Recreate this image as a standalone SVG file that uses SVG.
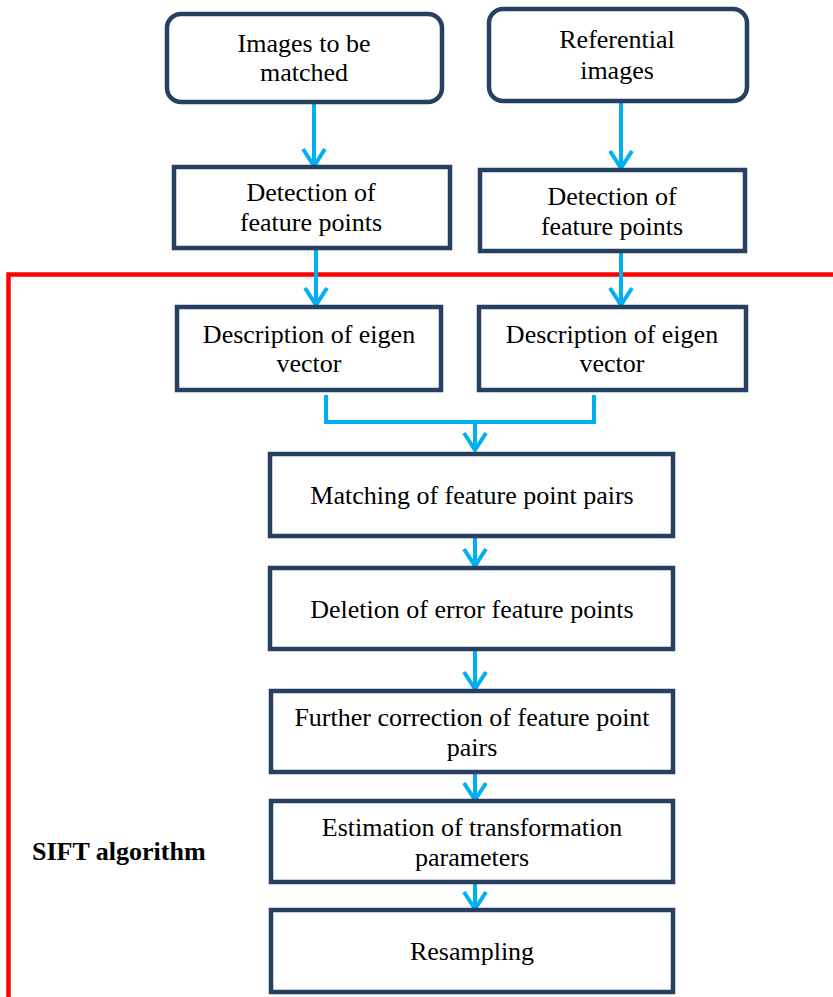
<svg xmlns="http://www.w3.org/2000/svg" width="833" height="997" viewBox="0 0 833 997">
<defs>
<style>
.box{fill:#fff;stroke:#273f60;stroke-width:4.5}
.lbl{font-family:'Liberation Serif',serif;font-size:26px;fill:#000;text-anchor:middle}
.conn{fill:none;stroke:#00b0f0;stroke-width:4}
</style>
<marker id="ah" markerUnits="userSpaceOnUse" markerWidth="30" markerHeight="30" viewBox="-20 -15 24 30" refX="0" refY="0" orient="auto" overflow="visible">
<path d="M-17,-11 L0,0 L-17,11" fill="none" stroke="#00b0f0" stroke-width="4" stroke-linejoin="miter"/>
</marker>
</defs>
<rect width="833" height="997" fill="#fff"/>
<g id="sift-region">
<path d="M833,274.5 H8.5 V997" fill="none" stroke="#ff0000" stroke-width="4.5"/>
<text x="32" y="860" font-family="Liberation Serif, serif" font-size="26" font-weight="bold">SIFT algorithm</text>
</g>
<g id="connectors">
<line class="conn" x1="314" y1="103" x2="314" y2="166" marker-end="url(#ah)"/>
<line class="conn" x1="621" y1="102" x2="621" y2="168" marker-end="url(#ah)"/>
<line class="conn" x1="316" y1="250" x2="316" y2="305" marker-end="url(#ah)"/>
<line class="conn" x1="621" y1="253" x2="621" y2="305" marker-end="url(#ah)"/>
<path class="conn" d="M326,395 V422 H594 V395"/>
<line class="conn" x1="475" y1="422" x2="475" y2="450" marker-end="url(#ah)"/>
<line class="conn" x1="475" y1="537" x2="475" y2="566" marker-end="url(#ah)"/>
<line class="conn" x1="475" y1="650" x2="475" y2="689" marker-end="url(#ah)"/>
<line class="conn" x1="475" y1="773" x2="475" y2="800" marker-end="url(#ah)"/>
<line class="conn" x1="475" y1="883" x2="475" y2="909" marker-end="url(#ah)"/>
</g>
<g id="n-images">
<rect class="box" x="167" y="14" width="275" height="88" rx="14"/>
<text class="lbl" x="304" y="52">Images to be</text>
<text class="lbl" x="304" y="81">matched</text>
</g>
<g id="n-referential">
<rect class="box" x="489" y="9" width="258" height="92" rx="14"/>
<text class="lbl" x="617" y="48">Referential</text>
<text class="lbl" x="617" y="79">images</text>
</g>
<g id="n-detect-left">
<rect class="box" x="174" y="167" width="276" height="81"/>
<text class="lbl" x="311" y="201">Detection of</text>
<text class="lbl" x="311" y="231">feature points</text>
</g>
<g id="n-detect-right">
<rect class="box" x="480" y="170" width="265" height="81"/>
<text class="lbl" x="612" y="205">Detection of</text>
<text class="lbl" x="612" y="235">feature points</text>
</g>
<g id="n-desc-left">
<rect class="box" x="177" y="307" width="264" height="83"/>
<text class="lbl" x="309" y="343">Description of eigen</text>
<text class="lbl" x="309" y="372">vector</text>
</g>
<g id="n-desc-right">
<rect class="box" x="479" y="307" width="267" height="83"/>
<text class="lbl" x="612" y="343">Description of eigen</text>
<text class="lbl" x="612" y="372">vector</text>
</g>
<g id="n-matching">
<rect class="box" x="270" y="454" width="403" height="82"/>
<text class="lbl" x="472" y="504">Matching of feature point pairs</text>
</g>
<g id="n-deletion">
<rect class="box" x="270" y="568" width="403" height="81"/>
<text class="lbl" x="472" y="618">Deletion of error feature points</text>
</g>
<g id="n-further">
<rect class="box" x="271" y="691" width="402" height="81"/>
<text class="lbl" x="472" y="726">Further correction of feature point</text>
<text class="lbl" x="472" y="756">pairs</text>
</g>
<g id="n-estimation">
<rect class="box" x="271" y="801" width="402" height="81"/>
<text class="lbl" x="472" y="836">Estimation of transformation</text>
<text class="lbl" x="472" y="866">parameters</text>
</g>
<g id="n-resampling">
<rect class="box" x="271" y="910" width="402" height="82"/>
<text class="lbl" x="472" y="960">Resampling</text>
</g>
</svg>
